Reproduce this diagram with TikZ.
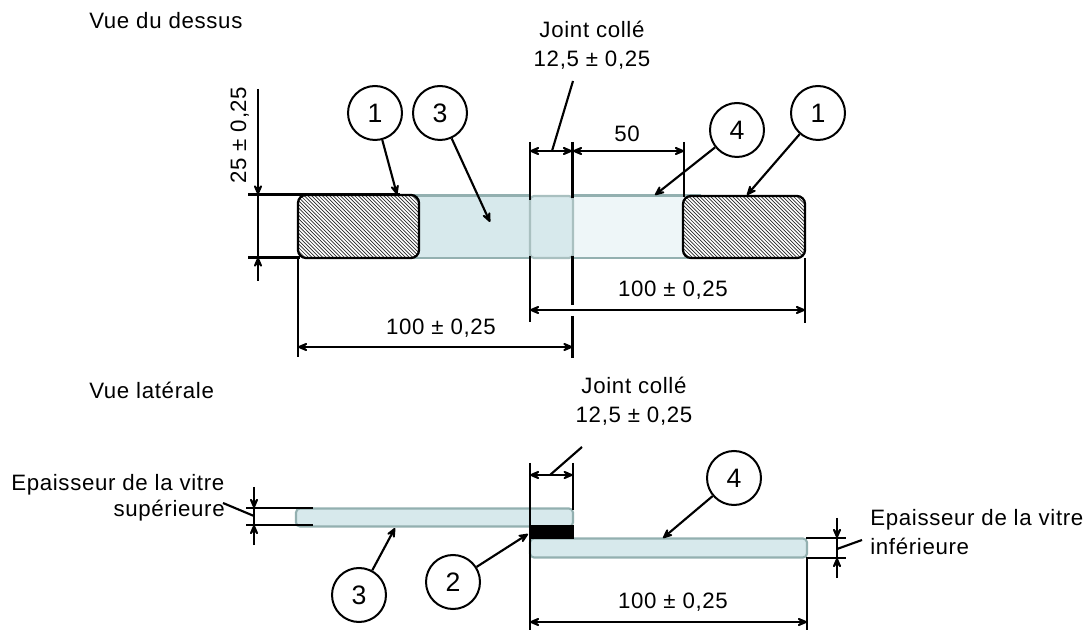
\documentclass[tikz,border=0pt]{standalone}
\usepackage{fontspec}
\setmainfont[LetterSpace=3]{Liberation Sans}
\usetikzlibrary{arrows.meta}
\definecolor{glassA}{HTML}{D7E9EC}
\definecolor{glassB}{HTML}{EEF6F8}
\definecolor{glassE}{HTML}{93B0B0}
\tikzset{
  x=0.75pt,y=-0.75pt,
  every node/.style={font=\fontsize{16.7}{19}\selectfont,inner sep=0pt,text=black},
  bubble/.style={circle,draw=black,line width=1.5pt,minimum size=40.5pt,fill=white,font=\fontsize{20}{23}\selectfont},
  line/.style={draw=black,line width=1.6pt},
  tip/.style={-{Stealth[length=11pt,width=9.5pt,inset=5.5pt,round]}},
  bitip/.style={{Stealth[length=11pt,width=9.5pt,inset=5.5pt,round]}-{Stealth[length=11pt,width=9.5pt,inset=5.5pt,round]}},
  glass/.style={draw=glassE,line width=1.6pt,fill=glassA,rounded corners=3pt},
  block/.style={draw=black,line width=1.7pt,rounded corners=6pt},
}
\newcommand{\hatchblock}[4]{%
  \fill[white,rounded corners=6pt] (#1,#2) rectangle (#3,#4);
  \begin{scope}
    \clip[rounded corners=6pt] (#1,#2) rectangle (#3,#4);
    \foreach \k in {0,3.6,...,200}{
      \draw[black!85,line width=0.5pt] ({#1-70+\k},#2) -- ({#1-70+\k+(#4-#2)},#4);
    }
  \end{scope}
  \draw[block] (#1,#2) rectangle (#3,#4);
}
\begin{document}
\begin{tikzpicture}
\useasboundingbox (0,0) rectangle (1085,630);
% ---------- top view
\node[anchor=base west] (t1) at (89,29) {Vue du dessus};
\node[anchor=base] (t2) at (592,38) {Joint collé};
\node[anchor=base] (t3) at (592,67) {12,5 ± 0,25};
\node[anchor=base] (t4) at (627,142) {50};
\node[anchor=base] (t5) at (673,297) {100 ± 0,25};
\node[anchor=base] (t6) at (441,335) {100 ± 0,25};
\node[anchor=base,rotate=90] (t7) at (246,135) {25 ± 0,25};

\fill[glassA,draw=glassE,line width=1.6pt] (330,195.5) rectangle (530,258);
\fill[glassB,draw=glassE,line width=1.6pt] (573,195.5) rectangle (700,258);
\draw[glass,draw=glassE!80] (530,196) rectangle (573,258);
\hatchblock{298}{195}{419}{258}
\hatchblock{683}{196}{805}{258}

\coordinate (a1) at (258,89); \coordinate (a2) at (258,194.5);
\coordinate (a3) at (258,281); \coordinate (a4) at (258,257.5);
\draw[line,tip] (a1) -- (a2);
\draw[line,tip] (a3) -- (a4);
\draw[line] (a2) -- (a4);
\draw[line] (248,194.5) -- (400,194.5);
\draw[line] (248,257.5) -- (300,257.5);

\coordinate (b1) at (530,151); \coordinate (b2) at (572,151);
\coordinate (b3) at (573,151); \coordinate (b4) at (684,151);
\draw[line,bitip] (b1) -- (b2);
\draw[line,bitip] (b3) -- (b4);
\draw[line] (530,142) -- (530,200); \draw[line] (530,256) -- (530,322);
\draw[line] (572.5,142) -- (572.5,198); \draw[line] (572.5,256) -- (572.5,305);
\draw[line] (572.5,316) -- (572.5,358);
\draw[line] (684,142) -- (684,197);
\draw[line] (298,258) -- (298,357);
\draw[line] (805,258) -- (805,323);
\coordinate (c1) at (530,310); \coordinate (c2) at (805,310);
\draw[line,bitip] (c1) -- (c2);
\coordinate (d1) at (298,347); \coordinate (d2) at (572.5,347);
\draw[line,bitip] (d1) -- (d2);

\node[bubble] (n1) at (375,113) {1};
\node[bubble] (n3) at (440,113) {3};
\node[bubble] (n4) at (737,130) {4};
\node[bubble] (n1b) at (818,113) {1};
\coordinate (e1) at (397,194.5); \coordinate (e3) at (490,222);
\coordinate (e4) at (655,195); \coordinate (e1b) at (747,195);
\draw[line,tip] (n1) -- (e1);
\draw[line,tip] (n3) -- (e3);
\draw[line,tip] (n4) -- (e4);
\draw[line,tip] (n1b) -- (e1b);
\coordinate (j1) at (573,81); \coordinate (j2) at (552,151);
\draw[line] (j1) -- (j2);

% ---------- side view
\node[anchor=base west] (s1) at (89,399) {Vue latérale};
\node[anchor=base] (s2) at (634,394) {Joint collé};
\node[anchor=base] (s3) at (634,423) {12,5 ± 0,25};
\node[anchor=base west] (s4) at (11,491) {Epaisseur de la vitre};
\node[anchor=base east] (s5) at (225,517) {supérieure};
\node[anchor=base west] (s6) at (870,526) {Epaisseur de la vitre};
\node[anchor=base west] (s7) at (870,554) {inférieure};
\node[anchor=base] (s8) at (673,608) {100 ± 0,25};

\draw[glass] (296,508.5) rectangle (573,526.5);
\draw[glass] (530,538.5) rectangle (807,557.5);
\fill[black] (530,525) rectangle (574,539);

\draw[line] (246,508) -- (313,508);
\draw[line] (246,525) -- (313,525);
\coordinate (f1) at (254,487); \coordinate (f2) at (254,508);
\coordinate (f3) at (254,545); \coordinate (f4) at (254,525);
\draw[line,tip] (f1) -- (f2);
\draw[line,tip] (f3) -- (f4);
\draw[line] (f2) -- (f4);
\coordinate (g1) at (223,503); \coordinate (g2) at (254,516);
\draw[line] (g1) -- (g2);

\draw[line] (530,463) -- (530,630);
\draw[line] (572.7,463) -- (572.7,510);
\coordinate (h1) at (530,475); \coordinate (h2) at (572.7,475);
\draw[line,bitip] (h1) -- (h2);
\coordinate (h3) at (582,447); \coordinate (h4) at (550,475);
\draw[line] (h3) -- (h4);

\draw[line] (807,558) -- (807,630);
\coordinate (i1) at (530,622); \coordinate (i2) at (807,622);
\draw[line,bitip] (i1) -- (i2);
\draw[line] (806,538) -- (846,538);
\draw[line] (806,558) -- (846,558);
\coordinate (k1) at (837,518); \coordinate (k2) at (837,538);
\coordinate (k3) at (837,578); \coordinate (k4) at (837,558);
\draw[line,tip] (k1) -- (k2);
\draw[line,tip] (k3) -- (k4);
\draw[line] (k2) -- (k4);
\coordinate (l1) at (837,549); \coordinate (l2) at (862,540);
\draw[line] (l1) -- (l2);

\node[bubble] (m3) at (359,595) {3};
\node[bubble] (m2) at (453,582) {2};
\node[bubble] (m4) at (734,478) {4};
\coordinate (o3) at (395,528); \coordinate (o2) at (528,534); \coordinate (o4) at (663,538);
\draw[line,tip] (m3) -- (o3);
\draw[line,tip] (m2) -- (o2);
\draw[line,tip] (m4) -- (o4);
\end{tikzpicture}
\end{document}
